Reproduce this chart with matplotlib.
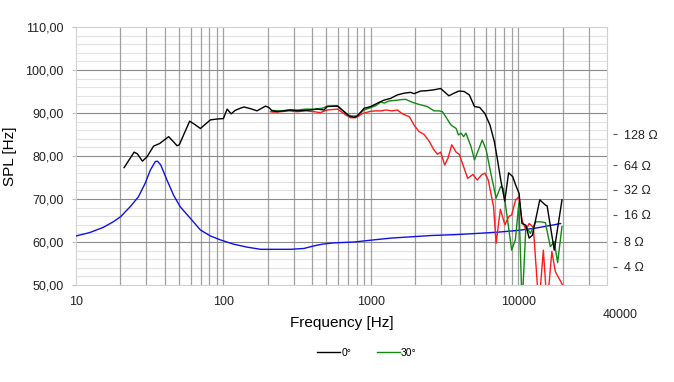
import numpy as np
import matplotlib
matplotlib.use("Agg")
import matplotlib.pyplot as plt
from matplotlib.ticker import FixedLocator, NullFormatter

plt.rcParams['font.family'] = ['Liberation Sans', 'DejaVu Sans']

# 0 deg response (black)
freq_0 = [21.2, 24.8, 26.1, 28.2, 30.3, 33.6, 36.9, 42.5, 45.9, 48.4, 50.2, 59.0, 63.5, 69.8,
          81.6, 90.5, 100, 106, 113, 120, 130, 138, 153, 169, 193, 203, 214, 232, 257, 286,
          317, 352, 390, 433, 481, 506, 594, 659, 712, 770, 810, 900, 1000, 1111, 1230, 1363,
          1512, 1678, 1862, 1962, 2178, 2416, 2682, 2977, 3137, 3383, 3664, 3957, 4300, 4660,
          5050, 5475, 5935, 6430, 6890, 7200, 7600, 8100, 8600, 9170, 9590, 10130, 10600,
          11270, 11860, 12480, 14000, 15280, 15700, 17550, 19800]
spl_0 = [77.3, 80.9, 80.5, 78.8, 79.8, 82.3, 82.9, 84.5, 83.3, 82.4, 82.6, 88.1, 87.4, 86.4,
         88.4, 88.6, 88.7, 90.9, 89.8, 90.6, 91.1, 91.4, 91.0, 90.5, 91.6, 91.3, 90.5, 90.3, 90.5, 90.7,
         90.5, 90.6, 90.7, 90.9, 90.7, 91.5, 91.6, 90.3, 89.3, 89.0, 89.3, 91.1, 91.5, 92.3, 93.0, 93.4,
         94.2, 94.6, 94.8, 94.5, 95.1, 95.2, 95.4, 95.7, 95.0, 94.0, 94.6, 95.1, 95.0, 94.2,
         91.5, 91.3, 89.9, 87.2, 83.3, 79.5, 74.5, 69.5, 76.1, 75.2, 73.3, 71.3, 64.3,
         63.9, 60.9, 61.6, 69.8, 68.6, 68.4, 58.1, 69.8]

# 30 deg response (green)
freq_30 = [214, 245, 278, 317, 362, 411, 469, 506, 594, 680, 730, 800, 900, 970, 1080, 1139,
           1170, 1230, 1325, 1435, 1512, 1715, 1910, 2120, 2416, 2682, 2900, 3060, 3225, 3500,
           3790, 3930, 4100, 4260, 4420, 4780, 5050, 5700, 6060, 6550, 7080, 7600, 7900, 8500,
           9020, 9560, 10100, 10620, 11270, 12100, 13100, 14150, 15280, 16500, 17550, 18500, 19800]
spl_30 = [90.6, 90.5, 90.7, 90.7, 90.9, 90.9, 91.1, 91.6, 91.7, 89.9, 89.3, 89.3, 90.7, 91.1, 91.7, 92.3,
          92.6, 92.3, 92.8, 92.9, 93.0, 93.2, 92.5, 92.0, 91.5, 90.5, 90.5, 90.3, 89.1, 87.2,
          86.4, 84.9, 85.3, 84.5, 85.3, 82.2, 79.1, 83.7, 81.4, 75.6, 70.2, 72.9, 72.5, 64.7,
          58.1, 60.5, 69.0, 45.0, 63.6, 62.0, 64.7, 64.7, 64.5, 58.9, 60.1, 55.2, 63.6]

# off-axis response (red)
freq_r = [208, 218, 245, 278, 317, 362, 411, 455, 506, 594, 680, 730, 790, 880, 1000, 1080,
          1170, 1265, 1390, 1512, 1640, 1830, 1962, 2120, 2300, 2500, 2682, 2830, 2977, 3170,
          3340, 3540, 3790, 3980, 4300, 4540, 4920, 5270, 5670, 5950, 6260, 6800, 7080, 7560,
          8120, 8600, 9020, 9600, 10100, 10600, 11270, 11860, 12660, 13800, 14800, 15700,
          16900, 17850, 20000]
spl_r = [90.3, 90.2, 90.3, 90.5, 90.3, 90.5, 90.3, 90.1, 90.7, 90.9, 89.5, 88.9, 88.9, 89.9, 90.4, 90.5,
         90.5, 90.7, 90.5, 90.7, 89.8, 89.1, 87.2, 85.7, 85.0, 83.3, 81.4, 80.4, 80.9, 77.9,
         79.5, 82.6, 80.9, 80.4, 77.1, 74.8, 75.7, 74.4, 75.7, 76.0, 74.4, 68.2, 59.7, 67.6,
         64.0, 65.9, 66.3, 69.8, 70.5, 65.1, 62.8, 64.3, 63.4, 45.0, 58.1, 45.0,
         57.8, 53.1, 50.0]

# impedance (blue), drawn on the SPL scale
freq_z = [10, 12.4, 15.3, 17.9, 20.1, 23.3, 26.5, 29.5, 31.9, 34.5, 35.7, 37.6, 41.4, 45.9,
          50.9, 59.7, 69.8, 81.6, 95.3, 117, 145, 179, 231, 285, 352, 411, 469, 562, 770,
          1050, 1363, 1862, 2550, 3664, 5290, 7340, 10000, 12950, 15700, 19400]
spl_z = [61.4, 62.2, 63.4, 64.7, 65.9, 68.2, 70.5, 73.7, 76.7, 78.7, 78.8, 77.9, 74.4, 70.9,
         68.2, 65.5, 62.8, 61.4, 60.5, 59.5, 58.8, 58.3, 58.3, 58.3, 58.5, 59.1, 59.5, 59.8, 60.0,
         60.5, 60.9, 61.2, 61.5, 61.7, 62.0, 62.3, 62.7, 63.2, 63.7, 64.3]

imp_labels = ["128 Ω", "64 Ω", "32 Ω", "16 Ω", "8 Ω", "4 Ω"]
imp_pos = [85.1, 77.9, 72.1, 66.3, 60.1, 54.2]

fig = plt.figure(figsize=(6.74, 3.82), dpi=100)
ax = fig.add_axes([76 / 674, 1 - 285 / 382, 531 / 674, 258 / 382])

ax.set_xscale('log')
ax.set_xlim(10, 40000)
ax.set_ylim(50, 110)

# grid
vgrid = [m * 10 ** e for e in range(1, 5) for m in range(1, 10)]
vgrid = [v for v in vgrid if 10 < v < 40000]
for v in vgrid:
    ax.axvline(v, color='#a0a0a0', lw=0.9, zorder=1)
for h in np.arange(52, 110, 2):
    if h % 10 == 0:
        ax.axhline(h, color='#8a8a8a', lw=0.8, zorder=1)
    else:
        ax.axhline(h, color='#e2e2e2', lw=0.8, zorder=0.5)

ax.plot(freq_z, spl_z, color='#1010ee', lw=1.0, zorder=3)
ax.plot(freq_r, spl_r, color='#ff1a1a', lw=1.0, zorder=4)
ax.plot(freq_30, spl_30, color='#108a10', lw=1.0, zorder=5, label='30°')
ax.plot(freq_0, spl_0, color='black', lw=1.0, zorder=6, label='0°')

for s in ax.spines.values():
    s.set_color('#d0d0d0')
    s.set_linewidth(0.8)

ax.xaxis.set_major_locator(FixedLocator([10, 100, 1000, 10000]))
ax.xaxis.set_minor_locator(FixedLocator([]))
ax.xaxis.set_minor_formatter(NullFormatter())
ax.set_xticklabels(['10', '100', '1000', '10000'])
ax.set_yticks(np.arange(50, 111, 10))
ax.set_yticklabels([f"{v:.2f}".replace('.', ',') for v in np.arange(50, 111, 10)])
ax.tick_params(axis='x', length=0, pad=8, labelsize=9, labelcolor='#222222')
ax.tick_params(axis='y', length=3, color='#c0c0c0', pad=6, labelsize=9, labelcolor='#222222')

ax.set_ylabel('SPL [Hz]', fontsize=11, labelpad=6)
ax.set_xlabel('Frequency [Hz]', fontsize=11, labelpad=6)
ax.text(620 / 674, 1 - 315 / 382, '40000', transform=fig.transFigure,
        ha='center', va='center', fontsize=9, color='#222222')

# impedance scale on the right
ax2 = ax.twinx()
ax2.set_ylim(50, 110)
ax2.set_yticks(imp_pos)
ax2.set_yticklabels(imp_labels)
for s in ax2.spines.values():
    s.set_visible(False)
ax2.spines['right'].set_position(('outward', 4))
ax2.tick_params(axis='y', length=3, color='#555555', pad=5, labelsize=9, labelcolor='#222222')

handles, labels = ax.get_legend_handles_labels()
fig.legend(handles[::-1], labels[::-1], loc='center', bbox_to_anchor=(367 / 674, 1 - 353 / 382),
           ncol=2, frameon=False, fontsize=7.5, handlelength=2.2, handletextpad=0.1,
           columnspacing=2.5)

fig.savefig('out.png', dpi=100)
